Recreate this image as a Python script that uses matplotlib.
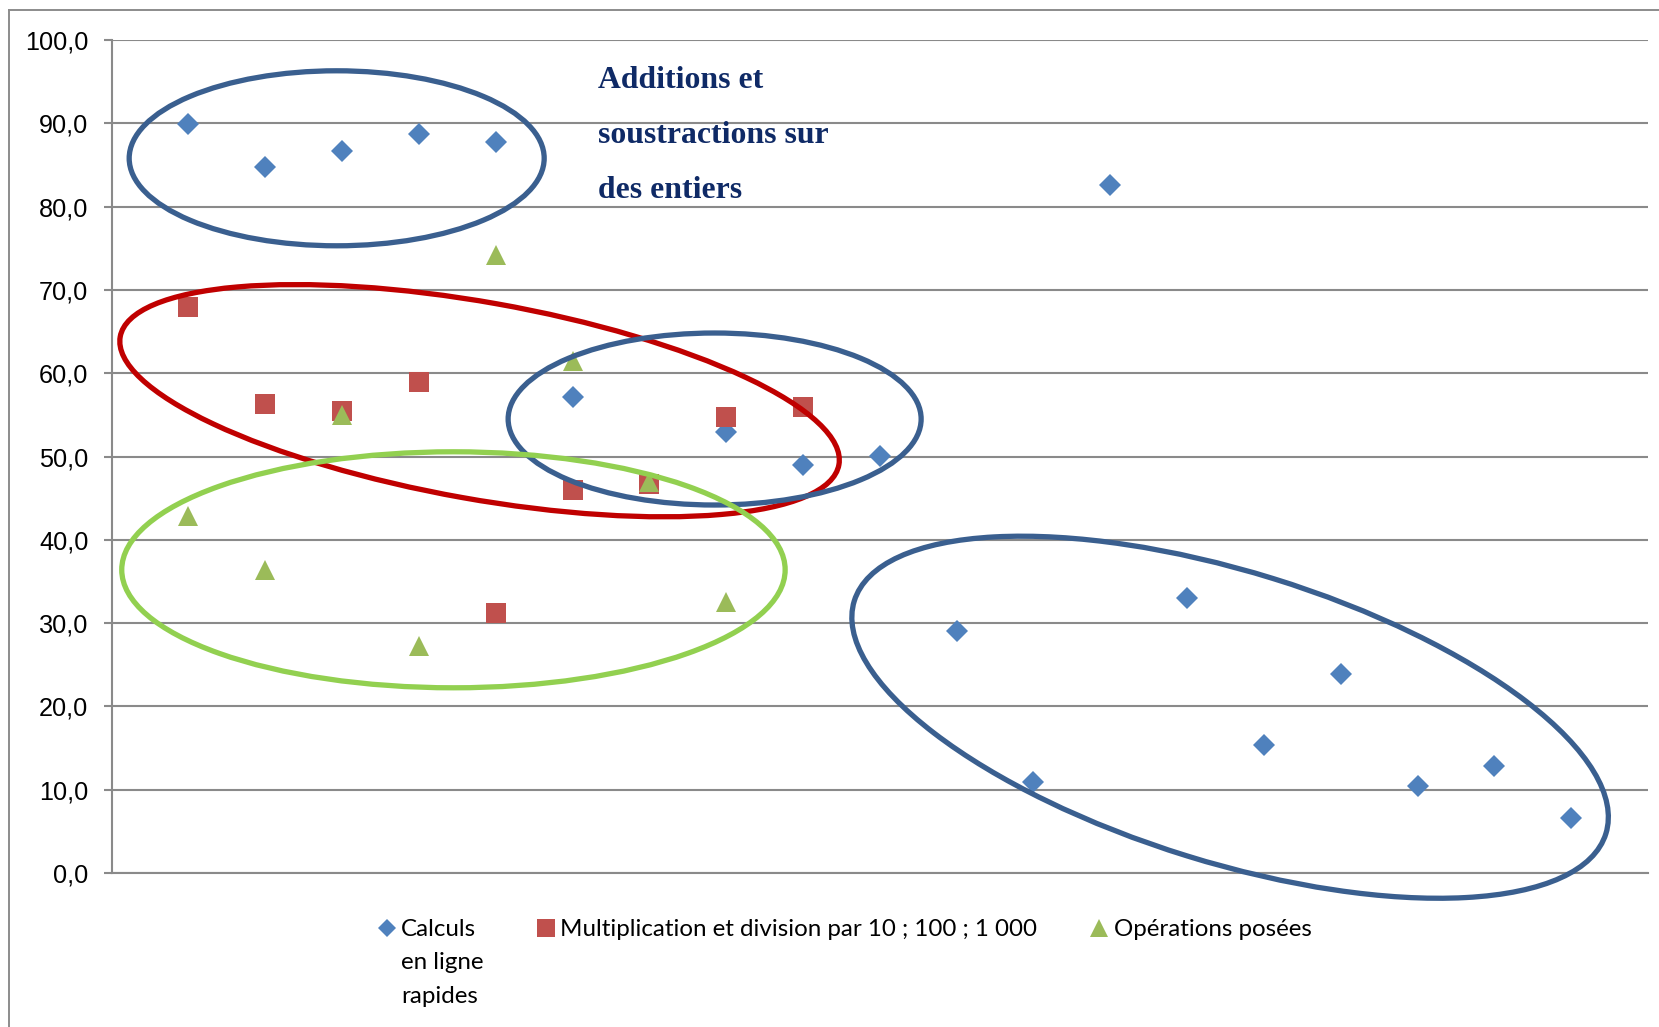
import numpy as np
import matplotlib
matplotlib.use("Agg")
import matplotlib.pyplot as plt
from matplotlib.patches import Ellipse
from matplotlib.lines import Line2D
import matplotlib.transforms as mtransforms
from matplotlib.ticker import FuncFormatter

# ---- data -------------------------------------------------------------
nan = np.nan
positions = np.arange(1, 20)

calculs = [89.9, 84.8, 86.7, 88.7, 87.7, 57.1, nan, 52.9, 49.0, 50.1,
           29.0, 10.9, 82.6, 33.0, 15.4, 23.9, 10.4, 12.8, 6.6]
multiplication = [67.9, 56.3, 55.5, 58.9, 31.2, 46.0, 46.7, 54.7, 55.9,
                  nan, nan, nan, nan, nan, nan, nan, nan, nan, nan]
operations = [42.9, 36.4, 55.0, 27.2, 74.2, 61.5, 46.9, 32.5,
              nan, nan, nan, nan, nan, nan, nan, nan, nan, nan, nan]

series_labels = ["Calculs\nen ligne\nrapides",
                 "Multiplication et division par 10 ; 100 ; 1 000",
                 "Opérations posées"]
y_ticks = np.arange(0, 101, 10)

annotation_lines = ["Additions et", "soustractions sur", "des entiers"]

# ---- styling ----------------------------------------------------------
W, H, DPI = 1659, 1027, 100
C_BLUE, C_RED, C_GREEN = "#4F81BD", "#C0504D", "#9BBB59"
E_BLUE, E_RED, E_GREEN = "#3A5F8F", "#C00000", "#92D050"
GRID = "#8A8A8A"
TICK_FONT = "Liberation Sans"
LEG_FONT = "Lato"

# group outlines: centre (x, y data), semi-axes (inches), angle, colour
groups = [
    ((2.93, 85.8), 2.075, 0.875, 0.0, E_BLUE),
    ((4.79, 56.7), 3.65, 0.984, -10.1, E_RED),
    ((7.85, 54.5), 2.065, 0.86, 0.0, E_BLUE),
    ((4.45, 36.4), 3.317, 1.18, 0.0, E_GREEN),
    ((14.56, 18.7), 3.934, 1.452, -17.2, E_BLUE),
]

fig = plt.figure(figsize=(W / DPI, H / DPI), dpi=DPI)
fig.patch.set_facecolor("white")
ax = fig.add_axes([111.6 / W, 1 - 873 / H, (1648 - 111.6) / W, (873 - 40) / H])

ax.set_xlim(0, 20)
ax.set_ylim(0, 100)

# series
ax.plot(positions, calculs, linestyle="none", marker="D", markersize=11,
        color=C_BLUE, markeredgewidth=0, zorder=3)
ax.plot(positions, multiplication, linestyle="none", marker="s", markersize=14.4,
        color=C_RED, markeredgewidth=0, zorder=4)
ax.plot(positions, operations, linestyle="none", marker="^", markersize=15,
        color=C_GREEN, markeredgewidth=0, zorder=5)

# axes look
ax.set_yticks(y_ticks)
ax.yaxis.set_major_formatter(FuncFormatter(lambda v, _: f"{v:.1f}".replace(".", ",")))
ax.set_xticks([])
ax.grid(axis="y", color=GRID, linewidth=1.5, zorder=0)
ax.set_axisbelow(True)
for side in ("top", "right"):
    ax.spines[side].set_visible(False)
for side in ("left", "bottom"):
    ax.spines[side].set_color(GRID)
    ax.spines[side].set_linewidth(1.5)
ax.tick_params(axis="y", direction="out", length=5.8, width=1.5, color=GRID,
               pad=11, labelsize=18.2, labelcolor="black")
for lab in ax.get_yticklabels():
    lab.set_fontfamily(TICK_FONT)

# group outlines
for (cx, cy), a, b, ang, col in groups:
    trans = fig.dpi_scale_trans + mtransforms.ScaledTranslation(cx, cy, ax.transData)
    ax.add_patch(Ellipse((0, 0), 2 * a, 2 * b, angle=ang, transform=trans,
                         fill=False, edgecolor=col, linewidth=3.8,
                         clip_on=False, zorder=6))

# annotation text
for i, line in enumerate(annotation_lines):
    fig.text(597.5 / W, 1 - (87.7 + 55.3 * i) / H, line, ha="left", va="baseline",
             fontsize=22.9, fontweight="bold", family="Liberation Serif",
             color="#0F2A66")

# legend
leg_y = 1 - 927.5 / H
leg_items = [
    (387 / W, 401 / W, "D", 9.0, C_BLUE, series_labels[0]),
    (546 / W, 560 / W, "s", 12.5, C_RED, series_labels[1]),
    (1099 / W, 1114 / W, "^", 13.0, C_GREEN, series_labels[2]),
]
for mx, tx, mk, ms, col, text in leg_items:
    fig.add_artist(Line2D([mx], [leg_y], transform=fig.transFigure, marker=mk,
                          markersize=ms, color=col, markeredgewidth=0,
                          linestyle="none"))
    for j, part in enumerate(text.split("\n")):
        fig.text(tx, 1 - (935.6 + 33.6 * j) / H, part, ha="left", va="baseline",
                 fontsize=17.4, family=LEG_FONT, color="black")

# outer frame (top and left edges)
fig.add_artist(Line2D([9 / W, 1], [1 - 10 / H, 1 - 10 / H], transform=fig.transFigure,
                      color="#8C8C8C", linewidth=1.4))
fig.add_artist(Line2D([9 / W, 9 / W], [1 - 10 / H, 0], transform=fig.transFigure,
                      color="#8C8C8C", linewidth=1.4))

fig.savefig("out.png", dpi=DPI, facecolor="white")
